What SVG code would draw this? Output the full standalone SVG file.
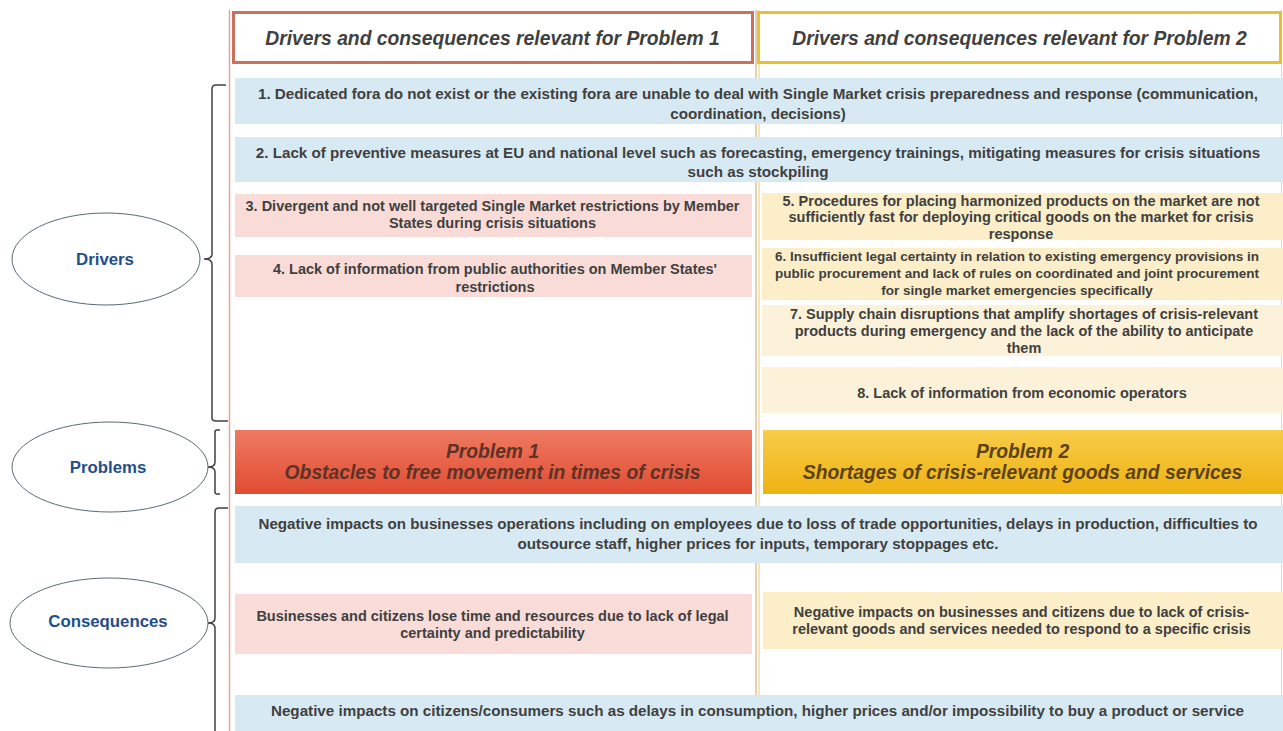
<svg xmlns="http://www.w3.org/2000/svg" width="1283" height="731" viewBox="0 0 1283 731">
<defs>
<style>
.t{font-family:"Liberation Sans",Arial,sans-serif;font-weight:bold;font-size:14.5px;fill:#404040;text-anchor:middle}
.ts{font-family:"Liberation Sans",Arial,sans-serif;font-weight:bold;font-size:13.5px;fill:#404040;text-anchor:middle}
.tb{font-family:"Liberation Sans",Arial,sans-serif;font-weight:bold;font-size:15.2px;fill:#404040;text-anchor:middle}
.h{font-family:"Liberation Sans",Arial,sans-serif;font-weight:bold;font-style:italic;font-size:19.3px;fill:#404040;text-anchor:middle}
.p{font-family:"Liberation Sans",Arial,sans-serif;font-weight:bold;font-style:italic;font-size:19.3px;text-anchor:middle}
.e{font-family:"Liberation Sans",Arial,sans-serif;font-weight:bold;font-size:16.8px;fill:#1f4e8c;text-anchor:middle}
.blue{fill:#d7eaf3}
.pink{fill:#f9dcd7}
.yel{fill:#fbeec8}
.yel2{fill:#fcf2da}
.ell{fill:#fff;stroke:#5a6b73;stroke-width:1}
.br{fill:none;stroke:#404040;stroke-width:1.5}
</style>
<linearGradient id="g1" x1="0" y1="0" x2="0" y2="1">
<stop offset="0" stop-color="#ee7b62"/><stop offset="1" stop-color="#e04c32"/>
</linearGradient>
<linearGradient id="g2" x1="0" y1="0" x2="0" y2="1">
<stop offset="0" stop-color="#f7cc4a"/><stop offset="1" stop-color="#efb212"/>
</linearGradient>
</defs>
<rect width="1283" height="731" fill="#fff"/>

<g id="frame">
<line x1="229.5" y1="10" x2="229.5" y2="731" stroke="#e2a596" stroke-width="1.5"/>
<line x1="756" y1="10" x2="756" y2="731" stroke="#c9a27a" stroke-width="1"/>
<line x1="759" y1="10" x2="759" y2="731" stroke="#e9cd6a" stroke-width="1"/>
<line x1="1281.5" y1="10" x2="1281.5" y2="731" stroke="#f0dc90" stroke-width="1"/>
</g>

<g id="header1">
<rect x="233.5" y="12.5" width="519" height="50" fill="#fff" stroke="#c9705e" stroke-width="3"/>
<text class="h" x="492.5" y="45">Drivers and consequences relevant for Problem 1</text>
</g>
<g id="header2">
<rect x="758.5" y="12.5" width="522" height="50" fill="#fff" stroke="#e8c12e" stroke-width="3"/>
<text class="h" x="1019.5" y="45">Drivers and consequences relevant for Problem 2</text>
</g>

<g id="driver1">
<rect class="blue" x="235" y="78" width="1048" height="46"/>
<text class="tb" x="758" y="99">1. Dedicated fora do not exist or the existing fora are unable to deal with Single Market crisis preparedness and response (communication,</text>
<text class="tb" x="758" y="118.5">coordination, decisions)</text>
</g>
<g id="driver2">
<rect class="blue" x="235" y="137" width="1048" height="45"/>
<text class="tb" x="758" y="158">2. Lack of preventive measures at EU and national level such as forecasting, emergency trainings, mitigating measures for crisis situations</text>
<text class="tb" x="758" y="177">such as stockpiling</text>
</g>
<g id="driver3">
<rect class="pink" x="235" y="194" width="517" height="43"/>
<text class="t" x="492.5" y="211">3. Divergent and not well targeted Single Market restrictions by Member</text>
<text class="t" x="492.5" y="228">States during crisis situations</text>
</g>
<g id="driver4">
<rect class="pink" x="235" y="255" width="517" height="42"/>
<text class="t" x="495" y="274">4. Lack of information from public authorities on Member States'</text>
<text class="t" x="495" y="292">restrictions</text>
</g>
<g id="driver5">
<rect class="yel" x="762" y="193" width="521" height="47"/>
<text class="t" x="1021" y="206">5. Procedures for placing harmonized products on the market are not</text>
<text class="t" x="1021" y="222">sufficiently fast for deploying critical goods on the market for crisis</text>
<text class="t" x="1021" y="238.5">response</text>
</g>
<g id="driver6">
<rect class="yel" x="762" y="248" width="521" height="52"/>
<text class="ts" x="1017" y="261">6. Insufficient legal certainty in relation to existing emergency provisions in</text>
<text class="ts" x="1017" y="278">public procurement and lack of rules on coordinated and joint procurement</text>
<text class="ts" x="1017" y="295">for single market emergencies specifically</text>
</g>
<g id="driver7">
<rect class="yel2" x="762" y="305" width="521" height="51"/>
<text class="t" x="1024" y="319">7. Supply chain disruptions that amplify shortages of crisis-relevant</text>
<text class="t" x="1024" y="336">products during emergency and the lack of the ability to anticipate</text>
<text class="t" x="1024" y="353">them</text>
</g>
<g id="driver8">
<rect class="yel2" x="762" y="367" width="521" height="46"/>
<text class="t" x="1022" y="398">8. Lack of information from economic operators</text>
</g>

<g id="problem1">
<rect x="235" y="430" width="517" height="64" fill="url(#g1)"/>
<text class="p" x="492.5" y="458" fill="#5e3226">Problem 1</text>
<text class="p" x="492.5" y="479" fill="#5e3226">Obstacles to free movement in times of crisis</text>
</g>
<g id="problem2">
<rect x="763" y="430" width="520" height="64" fill="url(#g2)"/>
<text class="p" x="1022.5" y="458" fill="#5c4316">Problem 2</text>
<text class="p" x="1022.5" y="479" fill="#5c4316">Shortages of crisis-relevant goods and services</text>
</g>

<g id="cons1">
<rect class="blue" x="235" y="506" width="1048" height="57"/>
<text class="tb" x="758" y="529">Negative impacts on businesses operations including on employees due to loss of trade opportunities, delays in production, difficulties to</text>
<text class="tb" x="758" y="549">outsource staff, higher prices for inputs, temporary stoppages etc.</text>
</g>
<g id="cons2">
<rect class="pink" x="235" y="594" width="517" height="60"/>
<text class="t" x="492.5" y="621">Businesses and citizens lose time and resources due to lack of legal</text>
<text class="t" x="492.5" y="638">certainty and predictability</text>
</g>
<g id="cons3">
<rect class="yel" x="763" y="592" width="520" height="57"/>
<text class="t" x="1021.5" y="617">Negative impacts on businesses and citizens due to lack of crisis-</text>
<text class="t" x="1021.5" y="634">relevant goods and services needed to respond to a specific crisis</text>
</g>
<g id="cons4">
<rect class="blue" x="235" y="695" width="1048" height="36"/>
<text class="tb" x="757.5" y="716">Negative impacts on citizens/consumers such as delays in consumption, higher prices and/or impossibility to buy a product or service</text>
</g>

<g id="drivers-label">
<ellipse class="ell" cx="106" cy="259" rx="94" ry="46"/>
<text class="e" x="105" y="265">Drivers</text>
</g>
<g id="problems-label">
<ellipse class="ell" cx="110" cy="467" rx="98" ry="45"/>
<text class="e" x="108" y="473">Problems</text>
</g>
<g id="consequences-label">
<ellipse class="ell" cx="109" cy="623" rx="99" ry="45"/>
<text class="e" x="108" y="627">Consequences</text>
</g>

<g id="connectors">
<path class="br" d="M226,85 H216 Q212,85 212,89 V254 Q212,259 204,259 Q212,259 212,264 V418 Q212,421 216,421 H228"/>
<path class="br" d="M220,430 H217 Q215,430 215,432 V462 Q215,467 208,467 Q215,467 215,472 V492 Q215,494 217,494 H220"/>
<path class="br" d="M228,508 H219 Q215,508 215,512 V618 Q215,623 208,623 Q215,623 215,628 V731"/>
</g>
</svg>
